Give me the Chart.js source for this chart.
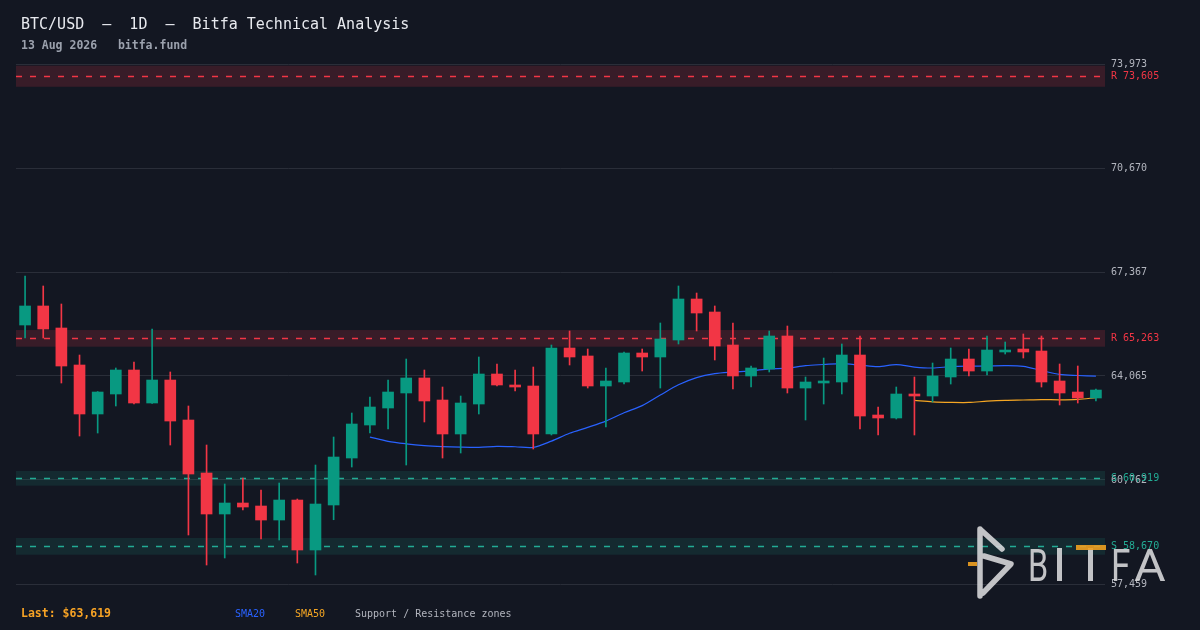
<!DOCTYPE html>
<html>
<head>
<meta charset="utf-8">
<script src="https://cdn.jsdelivr.net/npm/chart.js@4.4.1/dist/chart.umd.min.js"></script>
<style>
  html, body { margin: 0; padding: 0; background: #131722; }
  canvas { display: block; }
</style>
</head>
<body>
<canvas id="btcChart" width="1200" height="630"></canvas>
<script>
  // daily candles, oldest first
  const opens = [65684, 66288, 65589, 64414, 62858, 63493, 64255, 63207, 63937, 62667,
    60984, 59682, 60031, 59936, 59491, 60126, 58539, 59968, 61460, 62508,
    63048, 63525, 64001, 63302, 62223, 63175, 64128, 63779, 63747, 62223,
    64954, 64700, 63747, 63874, 64795, 64668, 65208, 66510, 66097, 65049,
    64065, 64287, 65335, 63683, 63842, 63874, 64731, 62826, 62731, 63493,
    63429, 64033, 64604, 64223, 64827, 64922, 64858, 63906, 63556, 63366];
  const highs = [67240, 66923, 66351, 64731, 63570, 64319, 64509, 65557, 64192, 63112,
    61873, 60635, 60825, 60444, 60666, 60158, 61238, 62127, 62889, 63398,
    63937, 64604, 64255, 63715, 63429, 64668, 64446, 64255, 64350, 65049,
    65494, 64922, 64319, 64827, 64922, 65748, 66923, 66700, 66288, 65748,
    64382, 65494, 65652, 64033, 64636, 65081, 65335, 63080, 63715, 64033,
    64477, 64954, 64922, 65335, 65144, 65398, 65335, 64446, 64382, 63652];
  const lows = [65271, 65271, 63842, 62159, 62254, 63112, 63175, 63190, 61873, 59015,
    58062, 58285, 59809, 58888, 58856, 58126, 57745, 59500, 61174, 62254,
    62381, 61238, 62604, 61460, 61619, 62858, 63747, 63588, 61746, 62191,
    64414, 63683, 62445, 63810, 64223, 63683, 65081, 65494, 64573, 63652,
    63715, 64192, 63525, 62667, 63175, 63493, 62381, 62191, 62699, 62191,
    63239, 63810, 64065, 64096, 64763, 64636, 63715, 63144, 63207, 63271];
  const closes = [66288, 65557, 64382, 62858, 63556, 64255, 63207, 63937, 62635, 60952,
    59682, 60031, 59904, 59491, 60126, 58539, 59999, 61492, 62540, 63080,
    63556, 64001, 63271, 62223, 63207, 64128, 63779, 63715, 62223, 64954,
    64668, 63747, 63906, 64795, 64668, 65240, 66510, 66065, 65017, 64065,
    64319, 65335, 63683, 63874, 63906, 64731, 62794, 62731, 63493, 63429,
    64065, 64604, 64223, 64890, 64890, 64827, 63874, 63525, 63366, 63619];

  // moving averages (start at candle 20 and 50)
  const sma20 = [62126, 61989, 61911, 61856, 61824, 61806, 61800, 61829, 61818, 61797,
    61997, 62246, 62432, 62632, 62897, 63125, 63460, 63785, 64014, 64138,
    64187, 64225, 64292, 64312, 64395, 64430, 64460, 64411, 64362, 64425,
    64349, 64319, 64362, 64377, 64382, 64393, 64373, 64241, 64114, 64081, 64059];
  const sma50 = [63291, 63246, 63227, 63224, 63265, 63292, 63303, 63316, 63308, 63323, 63376];

  const yTicks = [57459, 60762, 64065, 67367, 70670, 73973];

  // support / resistance (label price, band bottom, band top)
  const zoneKinds = ['R', 'R', 'S', 'S'];
  const zoneLevels = [73605, 65263, 60919, 58670];
  const zoneLows = [73250, 64995, 60580, 58390];
  const zoneHighs = [73920, 65525, 61050, 58920];

  const lastPrice = 63619;

  const UP = '#089981';
  const DOWN = '#f23645';
  const MONO = '"DejaVu Sans Mono", "Liberation Mono", monospace';

  const labels = closes.map((c, i) => 'D' + (i + 1));
  const candleColors = closes.map((c, i) => (c >= opens[i] ? UP : DOWN));

  const fmt = v => Math.round(v).toLocaleString('en-US');

  function squeezedLetter(ctx, ch, x, y, sx) {
    ctx.save();
    ctx.translate(x, y);
    ctx.scale(sx, 1);
    ctx.fillText(ch, 0, 0);
    ctx.restore();
  }

  const zonesPlugin = {
    id: 'zones',
    beforeDatasetsDraw(chart) {
      const { ctx, chartArea } = chart;
      const y = chart.scales.y;
      ctx.save();
      zoneLevels.forEach((lvl, i) => {
        const res = zoneKinds[i] === 'R';
        const top = y.getPixelForValue(zoneHighs[i]);
        const bot = y.getPixelForValue(zoneLows[i]);
        ctx.fillStyle = res ? 'rgba(242, 54, 69, 0.17)' : 'rgba(34, 171, 148, 0.13)';
        ctx.fillRect(chartArea.left, top, chartArea.right - chartArea.left, bot - top);
        const py = Math.round((top + bot) / 2) + 0.5;
        ctx.strokeStyle = res ? '#f23645' : '#22ab94';
        ctx.lineWidth = 1.5;
        ctx.setLineDash([6, 8]);
        ctx.beginPath();
        ctx.moveTo(chartArea.left, py);
        ctx.lineTo(chartArea.right, py);
        ctx.stroke();
      });
      ctx.restore();
    },
    afterDraw(chart) {
      const { ctx, chartArea } = chart;
      const y = chart.scales.y;
      ctx.save();
      ctx.font = '10px ' + MONO;
      ctx.textBaseline = 'middle';
      ctx.textAlign = 'left';
      zoneLevels.forEach((lvl, i) => {
        const res = zoneKinds[i] === 'R';
        const mid = (y.getPixelForValue(zoneHighs[i]) + y.getPixelForValue(zoneLows[i])) / 2;
        ctx.fillStyle = res ? '#f23645' : '#22ab94';
        ctx.fillText(zoneKinds[i] + ' ' + fmt(lvl), chartArea.right + 6, mid);
      });

      // header
      ctx.textBaseline = 'alphabetic';
      ctx.fillStyle = '#e8eaef';
      ctx.font = '15px ' + MONO;
      ctx.fillText('BTC/USD  \u2013  1D  \u2013  Bitfa Technical Analysis', 21, 29);
      ctx.fillStyle = '#9ba1ad';
      ctx.font = 'bold 11.5px ' + MONO;
      ctx.fillText('13 Aug 2026   bitfa.fund', 21, 49);

      // footer
      ctx.fillStyle = '#f7a325';
      ctx.font = 'bold 11.5px ' + MONO;
      ctx.fillText('Last: $' + fmt(lastPrice), 21, 617);
      ctx.font = '10px ' + MONO;
      ctx.fillStyle = '#2962ff';
      ctx.fillText('SMA20', 235, 617);
      ctx.fillStyle = '#f5a623';
      ctx.fillText('SMA50', 295, 617);
      ctx.fillStyle = '#b2b5be';
      ctx.fillText('Support / Resistance zones', 355, 617);

      // watermark
      ctx.globalAlpha = 0.9;
      ctx.strokeStyle = '#d6d6d8';
      ctx.lineWidth = 5.5;
      ctx.lineCap = 'round';
      ctx.lineJoin = 'round';
      ctx.beginPath();
      ctx.moveTo(980, 529); ctx.lineTo(980, 596);
      ctx.moveTo(981, 530); ctx.lineTo(1002, 549);
      ctx.moveTo(984, 556); ctx.lineTo(1011, 564); ctx.lineTo(983, 593);
      ctx.stroke();
      ctx.fillStyle = '#f0a020';
      ctx.fillRect(968, 562, 9, 4);
      ctx.fillStyle = '#d6d6d8';
      ctx.font = '45px Roboto, "Open Sans", sans-serif';
      squeezedLetter(ctx, 'B', 1028, 581, 0.72);
      ctx.fillRect(1057, 548, 5, 33);
      ctx.fillRect(1088, 548, 5, 33);
      squeezedLetter(ctx, 'F', 1111, 581, 0.78);
      squeezedLetter(ctx, 'A', 1134, 581, 1.08);
      ctx.fillStyle = '#f0a020';
      ctx.fillRect(1076, 545, 30, 5);
      ctx.restore();
    }
  };

  const ctx = document.getElementById('btcChart').getContext('2d');
  new Chart(ctx, {
    type: 'bar',
    data: {
      labels: labels,
      datasets: [
        {
          type: 'line',
          label: 'SMA20',
          data: Array(19).fill(null).concat(sma20),
          borderColor: '#2962ff',
          borderWidth: 1.2,
          pointRadius: 0,
          tension: 0.3,
          order: 3
        },
        {
          type: 'line',
          label: 'SMA50',
          data: Array(49).fill(null).concat(sma50),
          borderColor: '#f5a623',
          borderWidth: 1.2,
          pointRadius: 0,
          tension: 0.3,
          order: 3
        },
        {
          label: 'wick',
          data: lows.map((l, i) => [l, highs[i]]),
          backgroundColor: candleColors,
          barThickness: 1,
          grouped: false,
          order: 2
        },
        {
          label: 'body',
          data: opens.map((o, i) => [o, closes[i]]),
          backgroundColor: candleColors,
          barThickness: 11,
          grouped: false,
          order: 1
        }
      ]
    },
    options: {
      responsive: false,
      animation: false,
      layout: { padding: { left: 16, top: 64, bottom: 46, right: 0 } },
      scales: {
        x: {
          display: false,
          offset: true
        },
        y: {
          position: 'right',
          min: yTicks[0],
          max: yTicks[yTicks.length - 1],
          afterBuildTicks: scale => {
            scale.ticks = yTicks.map(v => ({ value: v }));
          },
          afterFit: scale => {
            scale.width = 95;
          },
          ticks: {
            color: '#b2b5be',
            padding: 6,
            font: { family: MONO, size: 10 },
            callback: v => fmt(v)
          },
          grid: {
            color: '#2a2e39',
            drawTicks: false
          },
          border: { display: false }
        }
      },
      plugins: {
        legend: { display: false },
        tooltip: { enabled: false }
      }
    },
    plugins: [zonesPlugin]
  });
</script>
</body>
</html>
